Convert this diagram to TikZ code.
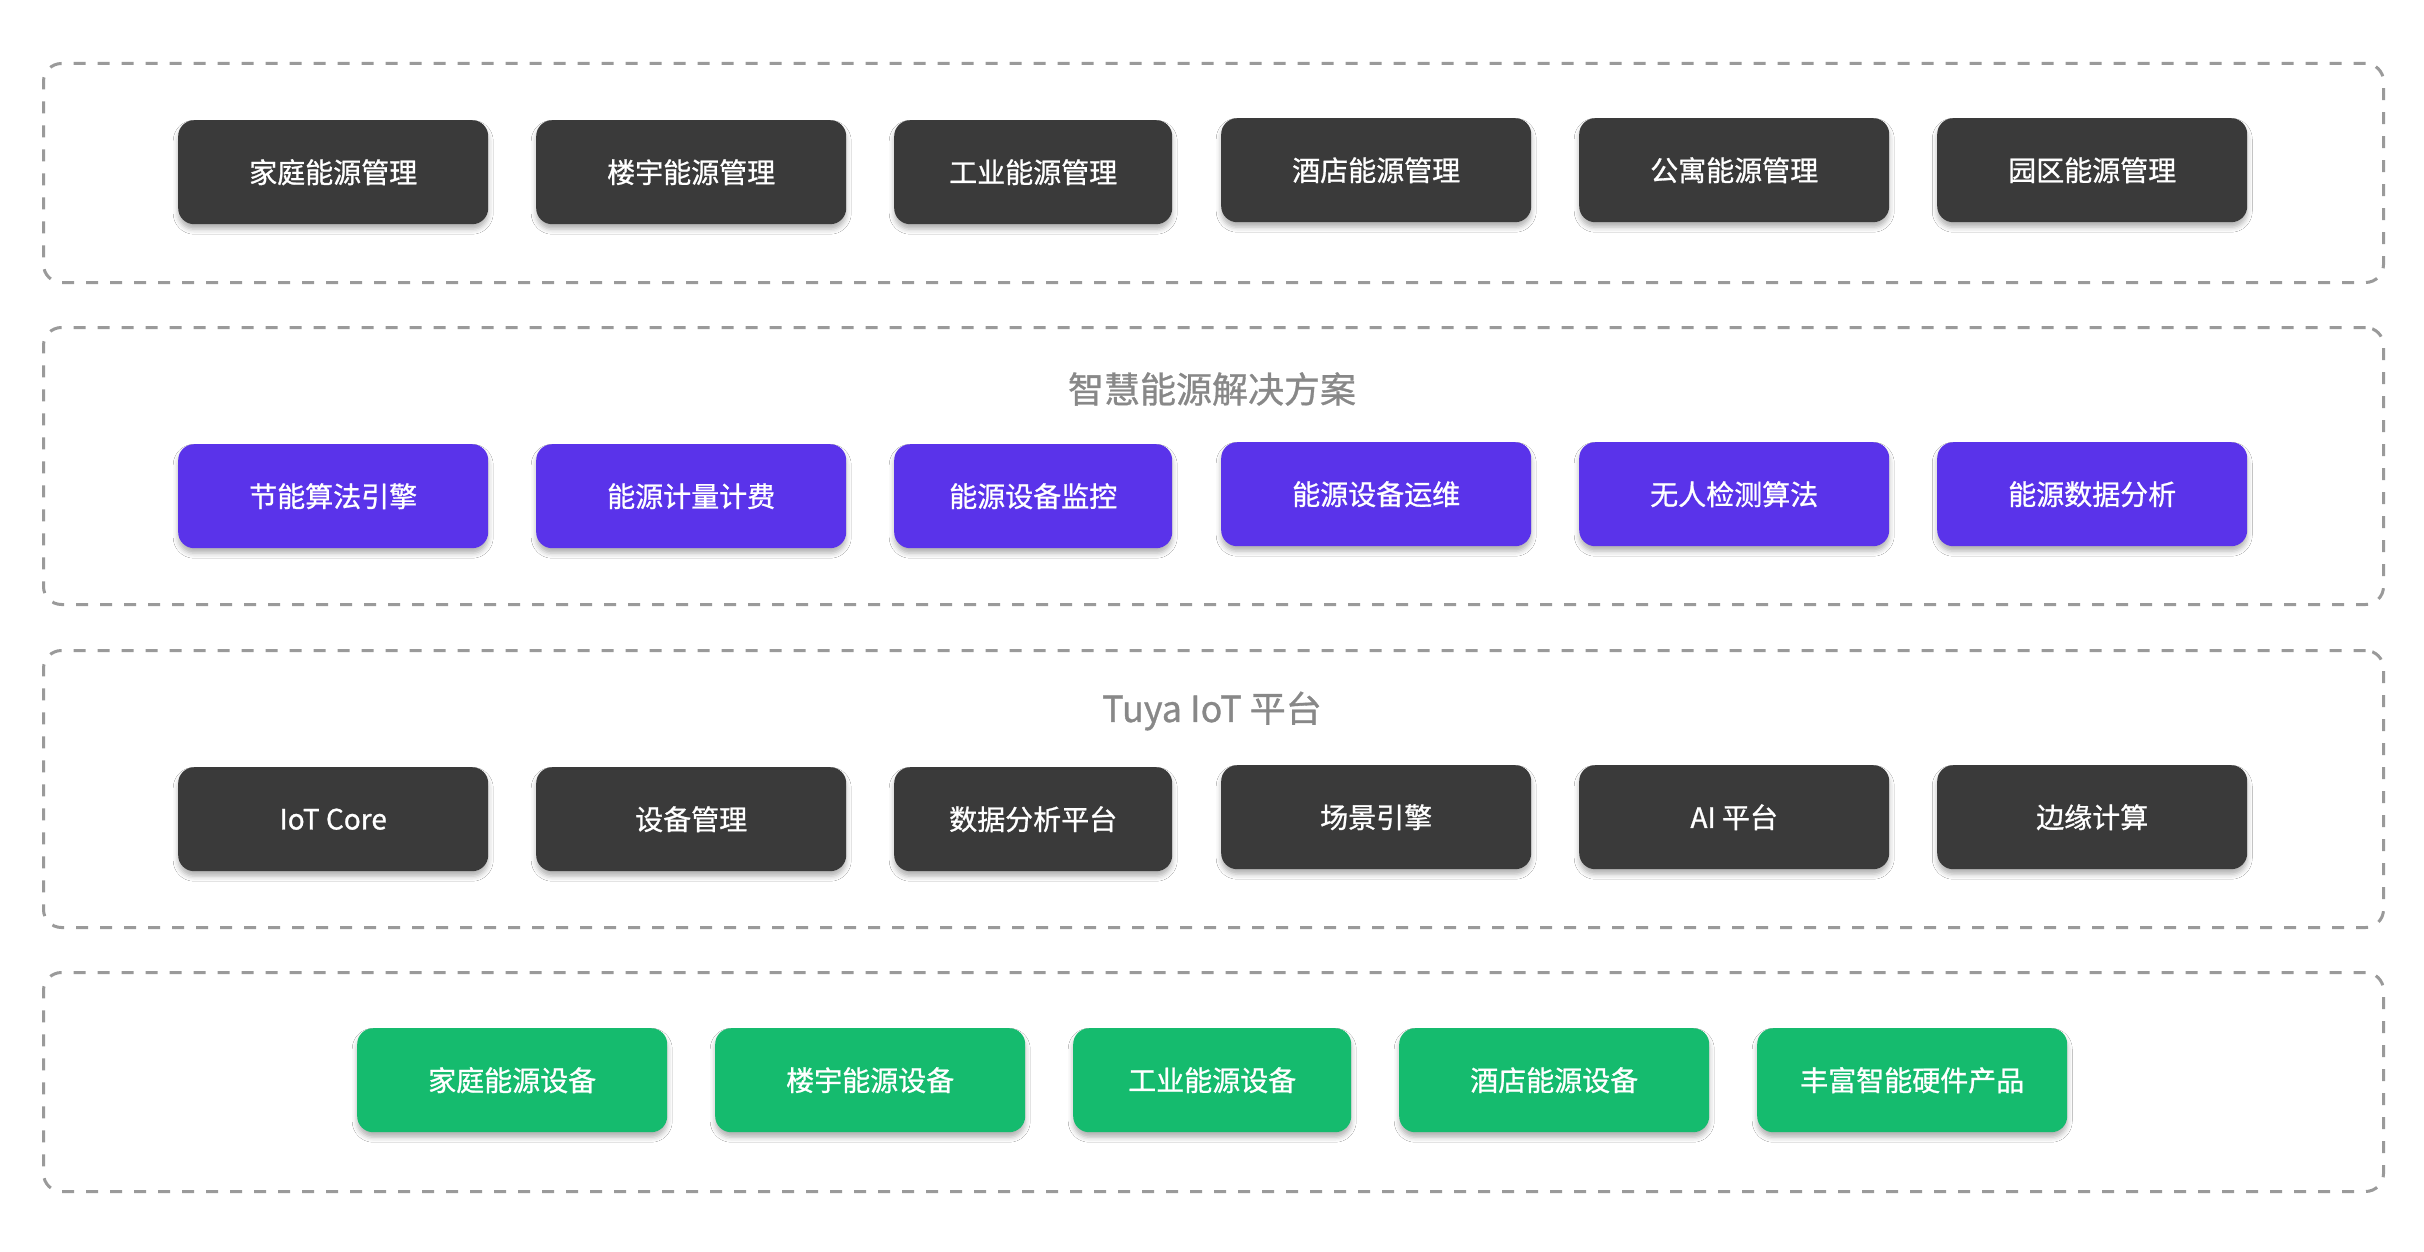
\documentclass[tikz,border=0pt]{standalone}
\usepackage{fontspec}
\setmainfont{Noto Sans CJK SC}
\newfontfamily\medfont{Noto Sans CJK SC}[FakeBold=0.9]
\usetikzlibrary{shadows.blur}
\definecolor{darkbox}{HTML}{3A3A3A}
\definecolor{purplebox}{HTML}{5A33EA}
\definecolor{greenbox}{HTML}{15BB6E}
\definecolor{frameline}{HTML}{9A9A9A}
\definecolor{titlegray}{HTML}{888888}
\definecolor{shadowcol}{HTML}{8A90A8}
\begin{document}
\begin{tikzpicture}[x=1pt,y=-1pt,
  layer/.style={draw=frameline, line width=3pt, dash pattern=on 12pt off 12pt,
    rounded corners=18pt, minimum width=2340pt, inner sep=0pt, anchor=north west},
  card/.style={rounded corners=16pt, text=white, font=\medfont\fontsize{28}{34}\selectfont,
    minimum height=104pt, minimum width=310pt, inner sep=0pt, anchor=north west,
    blur shadow={shadow xshift=0pt, shadow yshift=-5pt, shadow blur radius=5pt,
      shadow opacity=30, shadow blur extra rounding=2pt}},
  narrow/.style={minimum width=278pt},
  dark/.style={card, fill=darkbox},
  purple/.style={card, fill=purplebox},
  green/.style={card, fill=greenbox},
  heading/.style={text=titlegray, font=\medfont\fontsize{36}{42}\selectfont, inner sep=0pt}
]
\useasboundingbox (0,0) rectangle (2424,1252);
\fill[white] (0,0) rectangle (2424,1252);

% layer frames
\node[layer, minimum height=219pt] (L1) at (42,62) {};
\node[layer, minimum height=277pt] (L2) at (42,326) {};
\node[layer, minimum height=277pt] (L3) at (42,649) {};
\node[layer, minimum height=219pt] (L4) at (42,971) {};

% titles
\node[heading] (t2) at (1212,389) {智慧能源解决方案};
\node[heading] (t3) at (1212,711) {Tuya IoT 平台};

% row 1
\node[dark] (c11) at (178,120) {家庭能源管理};
\node[dark] (c12) at (536,120) {楼宇能源管理};
\node[dark, narrow] (c13) at (894,120) {工业能源管理};
\node[dark] (c14) at (1221,118) {酒店能源管理};
\node[dark] (c15) at (1579,118) {公寓能源管理};
\node[dark] (c16) at (1937,118) {园区能源管理};

% row 2
\node[purple] (c21) at (178,444) {节能算法引擎};
\node[purple] (c22) at (536,444) {能源计量计费};
\node[purple, narrow] (c23) at (894,444) {能源设备监控};
\node[purple] (c24) at (1221,442) {能源设备运维};
\node[purple] (c25) at (1579,442) {无人检测算法};
\node[purple] (c26) at (1937,442) {能源数据分析};

% row 3
\node[dark] (c31) at (178,767) {IoT Core};
\node[dark] (c32) at (536,767) {设备管理};
\node[dark, narrow] (c33) at (894,767) {数据分析平台};
\node[dark] (c34) at (1221,765) {场景引擎};
\node[dark] (c35) at (1579,765) {AI 平台};
\node[dark] (c36) at (1937,765) {边缘计算};

% row 4
\node[green] (c41) at (357,1028) {家庭能源设备};
\node[green] (c42) at (715,1028) {楼宇能源设备};
\node[green, narrow] (c43) at (1073,1028) {工业能源设备};
\node[green] (c44) at (1399,1028) {酒店能源设备};
\node[green] (c45) at (1757,1028) {丰富智能硬件产品};
\end{tikzpicture}
\end{document}
